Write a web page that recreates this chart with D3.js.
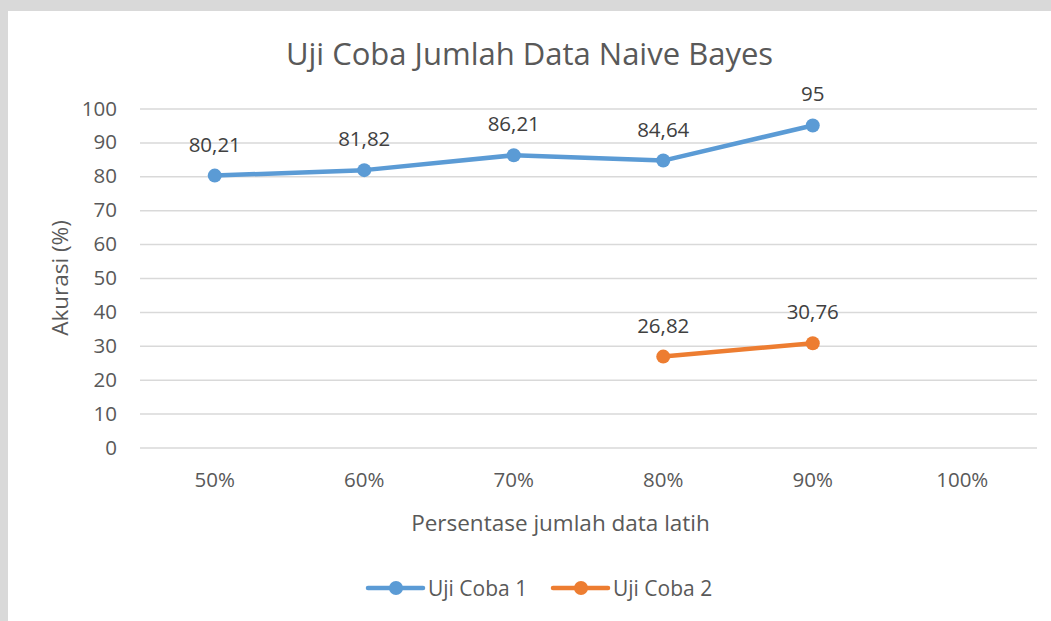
<!DOCTYPE html>
<html>
<head>
<meta charset="utf-8">
<script src="https://cdn.jsdelivr.net/npm/d3@7"></script>
<style>
  html, body { margin: 0; padding: 0; background: #ffffff; }
  svg { display: block; }
  text { font-family: "Open Sans", "Noto Sans", sans-serif; }
</style>
</head>
<body>
<svg id="chart" width="1051" height="621"></svg>
<script>
// Training-data share used in each run
const categories = ["50%", "60%", "70%", "80%", "90%", "100%"];
// Accuracy (%) per run; null where a run has no measurement
const ujiCoba1 = [80.21, 81.82, 86.21, 84.64, 95, null];
const ujiCoba2 = [null, null, null, 26.82, 30.76, null];
const yTicks = [0, 10, 20, 30, 40, 50, 60, 70, 80, 90, 100];
const seriesNames = ["Uji Coba 1", "Uji Coba 2"];
const seriesColors = ["#5B9BD5", "#ED7D31"];

const W = 1051, H = 621;
const svg = d3.select("#chart");

// page background strip around the chart box
svg.append("rect").attr("x", 0).attr("y", 0).attr("width", W).attr("height", H).attr("fill", "#d9d9d9");
svg.append("rect").attr("x", 8).attr("y", 11).attr("width", W - 8).attr("height", H - 11).attr("fill", "#ffffff");

const plot = { left: 140, right: 1037, top: 108.5, bottom: 447.5 };

const x = d3.scaleBand().domain(categories).range([plot.left, plot.right]);
const y = d3.scaleLinear().domain([0, 100]).range([plot.bottom, plot.top]);

// gridlines + value axis labels
const yAxis = d3.axisLeft(y).tickValues(yTicks).tickSize(-(plot.right - plot.left)).tickPadding(23).tickFormat(d3.format("d"));
const gy = svg.append("g").attr("transform", `translate(${plot.left},0)`).call(yAxis);
gy.select(".domain").remove();
gy.selectAll(".tick line").attr("stroke", "#d9d9d9").attr("stroke-width", 1.5);
gy.selectAll(".tick text").attr("fill", "#595959").attr("font-size", 20.5)
  .attr("font-family", "'Open Sans', sans-serif");

// category axis labels
const xAxis = d3.axisBottom(x).tickSize(0).tickPadding(25);
const gx = svg.append("g").attr("transform", `translate(0,${plot.bottom})`).call(xAxis);
gx.select(".domain").remove();
gx.selectAll(".tick text").attr("fill", "#595959").attr("font-size", 20.5)
  .attr("font-family", "'Open Sans', sans-serif");

// title
svg.append("text").attr("x", 529.5).attr("y", 65).attr("text-anchor", "middle")
  .attr("font-size", 31).attr("fill", "#595959").text("Uji Coba Jumlah Data Naive Bayes");

// axis titles
svg.append("text").attr("x", 560.5).attr("y", 531).attr("text-anchor", "middle")
  .attr("font-size", 22.5).attr("fill", "#595959").text("Persentase jumlah data latih");
svg.append("text").attr("transform", "translate(68,278) rotate(-90)").attr("text-anchor", "middle")
  .attr("font-size", 22.5).attr("fill", "#595959").text("Akurasi (%)");

// series
const series = [ujiCoba1, ujiCoba2];
const line = d3.line()
  .defined(d => d.v !== null)
  .x(d => x(d.c) + x.bandwidth() / 2)
  .y(d => y(d.v));
const fmt = v => String(v).replace(".", ",");

series.forEach((vals, i) => {
  const pts = vals.map((v, j) => ({ c: categories[j], v }));
  const g = svg.append("g");
  g.append("path").datum(pts).attr("d", line).attr("fill", "none")
    .attr("stroke", seriesColors[i]).attr("stroke-width", 4.5).attr("stroke-linejoin", "round").attr("stroke-linecap", "round");
  const valid = pts.filter(d => d.v !== null);
  g.selectAll("circle").data(valid).join("circle")
    .attr("cx", d => x(d.c) + x.bandwidth() / 2).attr("cy", d => y(d.v))
    .attr("r", 7).attr("fill", seriesColors[i]);
  g.selectAll("text").data(valid).join("text")
    .attr("x", d => x(d.c) + x.bandwidth() / 2).attr("y", d => y(d.v) - 24)
    .attr("text-anchor", "middle").attr("font-size", 20.5).attr("fill", "#404040")
    .text(d => fmt(d.v));
});

// legend
const legendItems = [
  { x0: 368, name: seriesNames[0], color: seriesColors[0] },
  { x0: 553, name: seriesNames[1], color: seriesColors[1] }
];
const ly = 588;
legendItems.forEach(it => {
  svg.append("line").attr("x1", it.x0).attr("x2", it.x0 + 55).attr("y1", ly).attr("y2", ly)
    .attr("stroke", it.color).attr("stroke-width", 4.5).attr("stroke-linecap", "round");
  svg.append("circle").attr("cx", it.x0 + 28).attr("cy", ly).attr("r", 7).attr("fill", it.color);
  svg.append("text").attr("x", it.x0 + 60).attr("y", ly + 7.5).attr("font-size", 21)
    .attr("fill", "#595959").text(it.name);
});
</script>
</body>
</html>
